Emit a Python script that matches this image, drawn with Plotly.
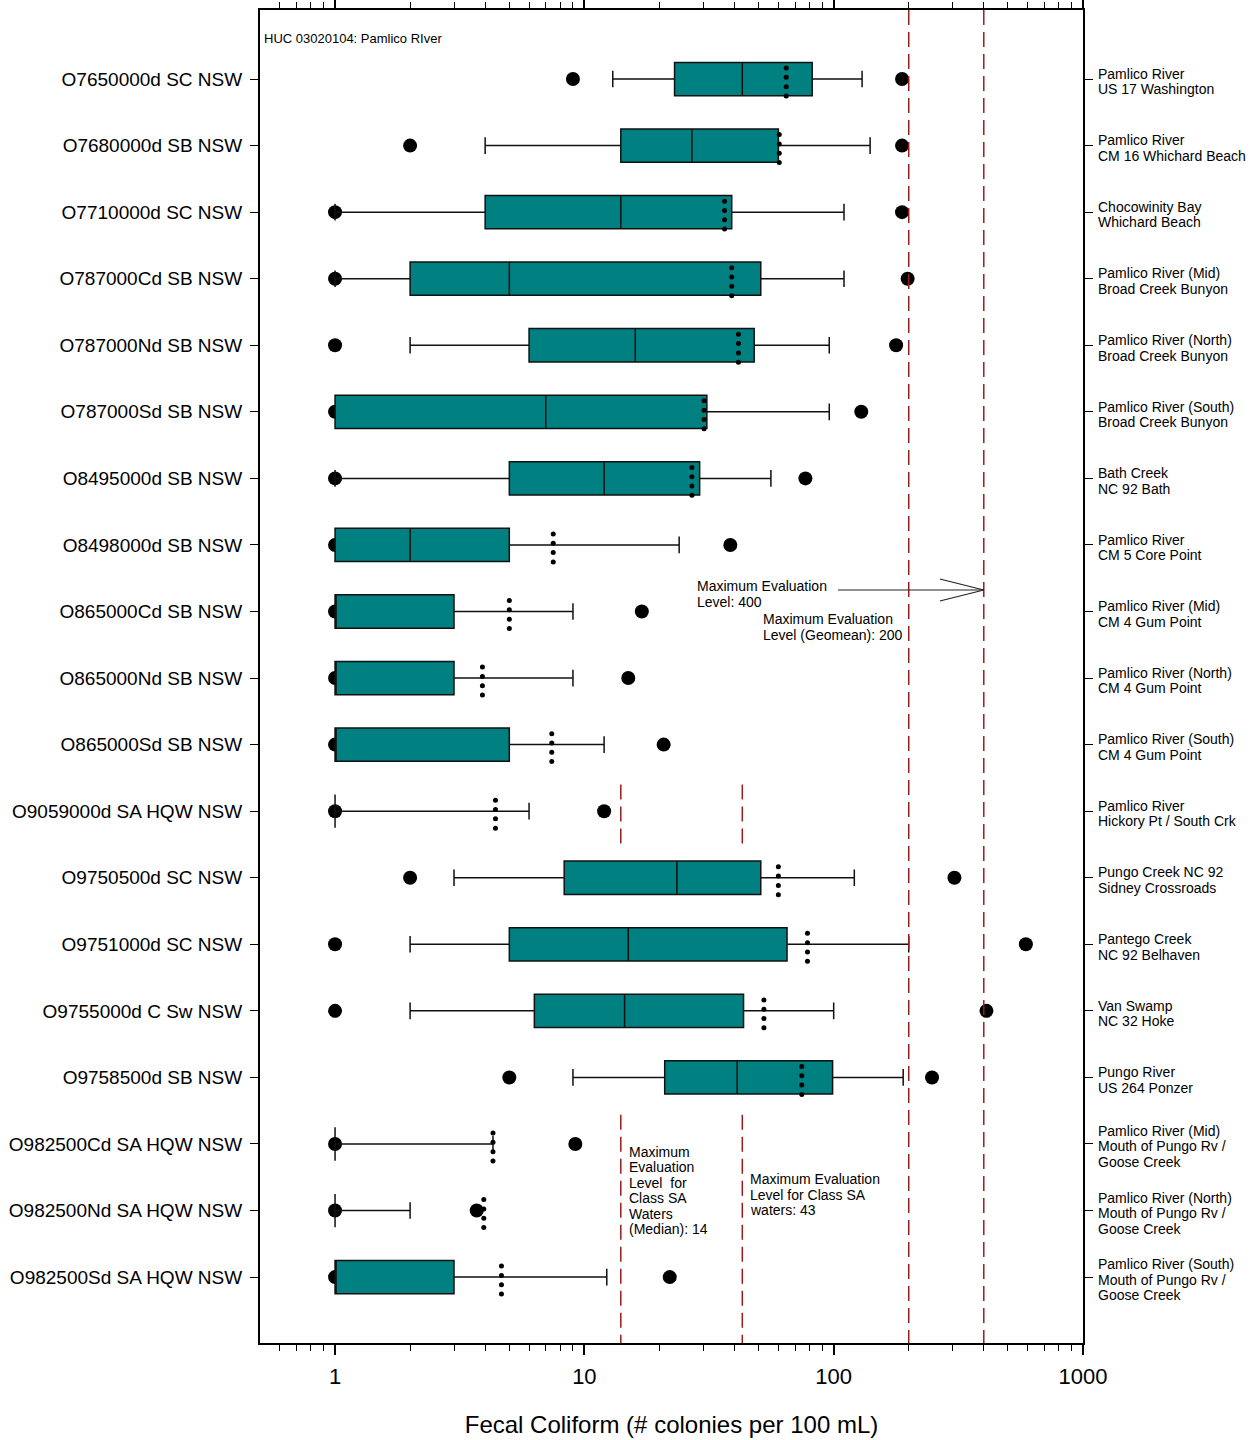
import math
import plotly.graph_objects as go

# Station identifiers (left axis) and site descriptions (right side)
stations = [
    "O7650000d SC NSW", "O7680000d SB NSW", "O7710000d SC NSW", "O787000Cd SB NSW",
    "O787000Nd SB NSW", "O787000Sd SB NSW", "O8495000d SB NSW", "O8498000d SB NSW",
    "O865000Cd SB NSW", "O865000Nd SB NSW", "O865000Sd SB NSW", "O9059000d SA HQW NSW",
    "O9750500d SC NSW", "O9751000d SC NSW", "O9755000d C Sw NSW", "O9758500d SB NSW",
    "O982500Cd SA HQW NSW", "O982500Nd SA HQW NSW", "O982500Sd SA HQW NSW",
]
sites = [
    ["Pamlico River", "US 17 Washington"],
    ["Pamlico River", "CM 16 Whichard Beach"],
    ["Chocowinity Bay", "Whichard Beach"],
    ["Pamlico River (Mid)", "Broad Creek Bunyon"],
    ["Pamlico River (North)", "Broad Creek Bunyon"],
    ["Pamlico River (South)", "Broad Creek Bunyon"],
    ["Bath Creek", "NC 92 Bath"],
    ["Pamlico River", "CM 5 Core Point"],
    ["Pamlico River (Mid)", "CM 4 Gum Point"],
    ["Pamlico River (North)", "CM 4 Gum Point"],
    ["Pamlico River (South)", "CM 4 Gum Point"],
    ["Pamlico River", "Hickory Pt / South Crk"],
    ["Pungo Creek NC 92", "Sidney Crossroads"],
    ["Pantego Creek", "NC 92 Belhaven"],
    ["Van Swamp", "NC 32 Hoke"],
    ["Pungo River", "US 264 Ponzer"],
    ["Pamlico River (Mid)", "Mouth of Pungo Rv /", "Goose Creek"],
    ["Pamlico River (North)", "Mouth of Pungo Rv /", "Goose Creek"],
    ["Pamlico River (South)", "Mouth of Pungo Rv /", "Goose Creek"],
]

# Fecal coliform summary statistics (colonies per 100 mL)
low_point = [9, 2, 1, 1, 1, 1, 1, 1, 1, 1, 1, 1, 2, 1, 1, 5, 1, 1, 1]
whisker_low = [13, 4, 1, 1, 2, 1, 1, 1, 1, 1, 1, 1, 3, 2, 2, 9, 1, 1, 1]
q1_vals = [23, 14, 4, 2, 6, 1, 5, 1, 1, 1, 1, 1, 8.3, 5, 6.3, 21, 1, 1, 1]
median_vals = [43, 27, 14, 5, 16, 7, 12, 2, 1, 1, 1, 1, 23.5, 15, 14.5, 41, 1, 1, 1]
q3_vals = [82, 60, 39, 51, 48, 31, 29, 5, 3, 3, 5, 1, 51, 65, 43.5, 99, 1, 1, 3]
whisker_high = [130, 140, 110, 110, 96, 96, 56, 24, 9, 9, 12, 6, 121, 200, 100, 190, 4.3, 2, 12.3]
high_point = [188, 188, 188, 198, 178, 129, 77, 38.5, 17, 15, 20.8, 12, 305, 590, 410, 248, 9.2, 3.7, 22]
mean_vals = [64.5, 60.5, 36.5, 39, 41.5, 30.2, 27, 7.5, 5, 3.9, 7.4, 4.4, 60, 78.5, 52.5, 74.5, 4.3, 3.95, 4.65]

# Evaluation levels
level_median_sa = 14
level_sa = 43
level_geomean = 200
level_max = 400

FONT = "Arial, Liberation Sans, sans-serif"
TEAL = "#008080"
RED = "#9B1C1C"
Y_TOP, Y_BOTTOM = -1.037, 18.99
X_RANGE = [math.log10(0.5), 3]
ROW_PX = 66.56  # pixels per row on the y axis

pos = list(range(len(stations)))
fig = go.Figure()

# Extreme values on the base subplot, so the boxes overlay them
fig.add_trace(go.Scatter(
    x=low_point + high_point, y=pos + pos, mode="markers", showlegend=False,
    hoverinfo="skip", marker=dict(color="black", size=14, line=dict(width=0)),
))

# Boxes, reference lines and means live on an overlaid subplot drawn above
fig.add_trace(go.Box(
    y=pos, q1=q1_vals, median=median_vals, q3=q3_vals,
    lowerfence=whisker_low, upperfence=whisker_high,
    orientation="h", width=0.5, whiskerwidth=0.5,
    fillcolor=TEAL, line=dict(color="#111111", width=1.5),
    boxpoints=False, showlegend=False, hoverinfo="skip",
    xaxis="x2", yaxis="y2",
))

def vline(level, segments):
    xs, ys = [], []
    for a, b in segments:
        xs += [level, level, None]
        ys += [a, b, None]
    fig.add_trace(go.Scatter(x=xs, y=ys, mode="lines", showlegend=False, hoverinfo="skip",
                             xaxis="x2", yaxis="y2",
                             line=dict(color=RED, width=1.5, dash="15px,7px")))

sa_rows = [(10.6, 11.5), (15.56, Y_BOTTOM)]
vline(level_median_sa, sa_rows)
vline(level_sa, sa_rows)
vline(level_geomean, [(Y_TOP, Y_BOTTOM)])
vline(level_max, [(Y_TOP, Y_BOTTOM)])

# Mean shown as a short dotted vertical line
dot_offsets = [-0.165, -0.025, 0.115, 0.255]
mx, my = [], []
for p, m in zip(pos, mean_vals):
    for d in dot_offsets:
        mx.append(m)
        my.append(p + d)
fig.add_trace(go.Scatter(x=mx, y=my, mode="markers", showlegend=False, hoverinfo="skip",
                         xaxis="x2", yaxis="y2",
                         marker=dict(color="black", size=5, line=dict(width=0))))

# Arrow pointing at the 400 level
arrow_y = 7.677
fig.add_trace(go.Scatter(
    x=[104, level_max, None, level_max / 1.5, level_max, level_max / 1.5],
    y=[arrow_y, arrow_y, None, arrow_y - 0.165, arrow_y, arrow_y + 0.165],
    mode="lines", showlegend=False, hoverinfo="skip", xaxis="x2", yaxis="y2",
    line=dict(color="#222222", width=1.2),
))

LINE_STEP = 15.5 / ROW_PX

def text_block(lines, x, y_first, size=14, xref="x", xshift=0):
    for k, s in enumerate(lines):
        fig.add_annotation(
            x=x, y=y_first + k * LINE_STEP, xref=xref, yref="y", text=s,
            showarrow=False, xanchor="left", yanchor="middle", xshift=xshift,
            font=dict(family=FONT, size=size, color="black"),
        )

# Site descriptions to the right of the frame
for p, lines in zip(pos, sites):
    n = len(lines)
    first = p + 2.5 / ROW_PX - (n - 1) / 2 * LINE_STEP
    text_block(lines, 1, first, size=14, xref="paper", xshift=13)

text_block(["HUC 03020104: Pamlico RIver"], -0.295, -0.616, size=13)
text_block(["Maximum Evaluation", "Level: 400"], 1.444, 7.617)
text_block(["Maximum Evaluation", "Level (Geomean): 200"], 1.708, 8.113)
text_block(["Maximum", "Evaluation", "Level  for", "Class SA", "Waters", "(Median): 14"],
           1.172, 16.12)
text_block(["Maximum Evaluation", "Level for Class SA", "waters: 43"], 1.656, 16.53)

minor_vals = [0.6, 0.7, 0.8, 0.9] + [m * 10 ** e for e in range(0, 3) for m in range(2, 10)]

fig.update_layout(
    width=1254, height=1440,
    margin=dict(l=260, r=171, t=10, b=97),
    paper_bgcolor="white", plot_bgcolor="white",
    font=dict(family=FONT, color="black"),
    boxmode="overlay",
    xaxis=dict(
        type="log", range=X_RANGE, automargin=False,
        tickvals=[1, 10, 100, 1000], ticktext=["1", "10", "100", "1000"],
        ticks="outside", ticklen=10, tickwidth=1.5, tickcolor="black",
        minor=dict(tickvals=minor_vals, ticks="outside", ticklen=6, tickwidth=1.2,
                   tickcolor="black", showgrid=False),
        showline=True, linecolor="black", linewidth=2, mirror="ticks",
        showgrid=False, zeroline=False, ticklabelstandoff=3,
        tickfont=dict(size=22, family=FONT),
        title=dict(text="Fecal Coliform (# colonies per 100 mL)",
                   font=dict(size=24, family=FONT), standoff=28),
    ),
    yaxis=dict(
        range=[Y_BOTTOM, Y_TOP], tickvals=pos, ticktext=stations, automargin=False,
        ticks="outside", ticklen=8, tickwidth=1.2, tickcolor="black",
        showline=True, linecolor="black", linewidth=2, mirror="ticks",
        showgrid=False, zeroline=False, ticklabelstandoff=4,
        tickfont=dict(size=19, family=FONT),
    ),
    xaxis2=dict(
        type="log", range=X_RANGE, overlaying="x", anchor="y2", automargin=False,
        visible=False, showgrid=False, zeroline=False,
    ),
    yaxis2=dict(
        range=[Y_BOTTOM, Y_TOP], overlaying="y", anchor="x2", automargin=False,
        visible=False, showgrid=False, zeroline=False,
    ),
)

fig.write_html("out.html")
